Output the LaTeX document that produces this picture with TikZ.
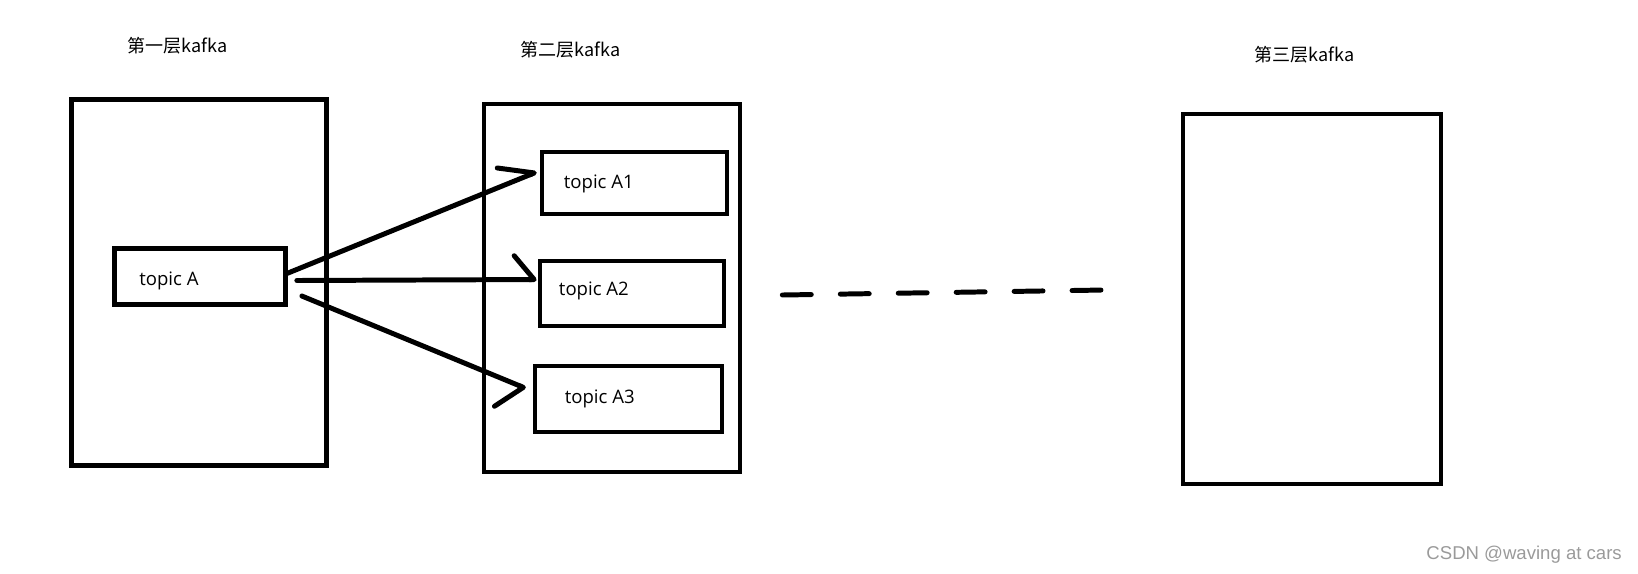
\documentclass[tikz,border=0pt]{standalone}
\usepackage{fontspec}
\usepackage{tikz}
\usetikzlibrary{arrows.meta}
\setmainfont{Open Sans}
\newfontfamily\cjkfont{Noto Sans CJK SC}
\newfontfamily\wmfont{Liberation Sans}
\definecolor{ink}{HTML}{000000}
\definecolor{wmgray}{HTML}{9A9A9A}

\begin{document}
\begin{tikzpicture}[x=0.0265cm,y=-0.0265cm,
  boxed/.style={draw=ink,line width=3.6pt,inner sep=0pt},
  flow/.style={draw=ink,line width=3.75pt,line cap=round}]
  \useasboundingbox (0,0) rectangle (1638,573);
  % the three kafka layers
  \node[boxed,minimum width=192.3pt,minimum height=276pt] (L1) at (199,282.5) {};
  \node[boxed,minimum width=193pt,minimum height=277.5pt] (L2) at (612,288) {};
  \node[boxed,minimum width=194.5pt,minimum height=279pt] (L3) at (1312,299) {};
  % topics
  \node[boxed,minimum width=128.9pt,minimum height=42.2pt] (tA) at (200,276.5) {};
  \node[boxed,minimum width=139.5pt,minimum height=46.7pt] (tA1) at (634.5,183) {};
  \node[boxed,minimum width=138.7pt,minimum height=49pt] (tA2) at (632,293.5) {};
  \node[boxed,minimum width=141pt,minimum height=49.8pt] (tA3) at (628.5,399) {};
  \begin{scope}[font=\cjkfont\fontsize{13.6}{13.6}\selectfont]
    \node[anchor=base] (T1) at (177.5,52) {第一层kafka};
    \node[anchor=base] (T2) at (570.5,56) {第二层kafka};
    \node[anchor=base] (T3) at (1304.5,61) {第三层kafka};
  \end{scope}
  \begin{scope}[font=\fontsize{14}{14}\selectfont,inner sep=0pt]
    \node[anchor=base west] (tAlbl) at (139,285.5) {topic A};
    \node[anchor=base west] (tA1lbl) at (563.6,188) {topic A1};
    \node[anchor=base west] (tA2lbl) at (558.7,295) {topic A2};
    \node[anchor=base west] (tA3lbl) at (564.5,403) {topic A3};
  \end{scope}
  % fan out
  \draw[flow,-{Straight Barb[harpoon,round,length=24.5pt,width=28pt]}]
    ([shift={(-1,-3)}]tA.east) -- ([shift={(-3,-11)}]tA1.west);
  \draw[flow,-{Straight Barb[harpoon,round,length=15pt,width=36pt]}]
    ([shift={(9,4)}]tA.east) -- ([shift={(-1,-14)}]tA2.west);
  \draw[flow,-{Straight Barb[harpoon,swap,round,length=14.7pt,width=43pt]}]
    ([shift={(14,19.5)}]tA.east) -- ([shift={(-7,-10.7)}]tA3.west);
  \draw[flow,dash pattern=on 21.8pt off 21.9pt]
    ([shift={(40,7)}]L2.east) -- ([shift={(-76,-9)}]L3.west);
  \node[anchor=base east,text=wmgray,font=\wmfont\fontsize{14}{14}\selectfont,inner sep=0pt]
    (wm) at (1622,559) {CSDN @waving at cars};
\end{tikzpicture}
\end{document}
